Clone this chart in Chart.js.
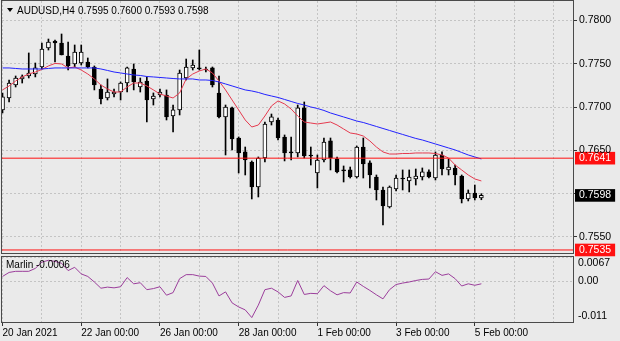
<!DOCTYPE html>
<html>
<head>
<meta charset="utf-8">
<script src="https://cdn.jsdelivr.net/npm/chart.js@4.4.1/dist/chart.umd.min.js"></script>
<style>
  html, body { margin: 0; padding: 0; background: #eaeaea; overflow: hidden; }
  canvas { position: absolute; left: 0; top: 0; }
</style>
</head>
<body>
<canvas id="precio" width="620" height="341"></canvas>
<canvas id="marlin" width="620" height="341"></canvas>
<script>
const W = 620, H = 341;
const symbol = "AUDUSD", period = "H4";

// H4 candles, 20 Jan 2021 00:00 -> 5 Feb 2021 04:00
const opens = [0.76967,0.77105,0.77255,0.77325,0.77359,0.77382,0.77463,0.77682,0.77763,0.77740,
  0.77590,0.77498,0.77509,0.77521,0.77463,0.77209,0.77105,0.77151,0.77174,0.77278,
  0.77440,0.77232,0.77301,0.77094,0.77140,0.77140,0.76897,0.76967,0.77336,0.77452,
  0.77452,0.77440,0.77452,0.77163,0.76886,0.76990,0.76643,0.76482,0.76366,0.76077,
  0.76412,0.76828,0.76851,0.76655,0.76482,0.76470,0.76990,0.76447,0.76239,0.76389,
  0.76609,0.76401,0.76274,0.76274,0.76193,0.76539,0.76355,0.76193,0.76043,0.75846,
  0.76054,0.76181,0.76147,0.76170,0.76193,0.76251,0.76181,0.76447,0.76274,0.76297,
  0.76204,0.75939,0.76008,0.7595];
const highs = [0.77163,0.77313,0.77359,0.77371,0.77625,0.77509,0.77740,0.77786,0.77775,0.77844,
  0.77752,0.77717,0.77717,0.77567,0.77475,0.77255,0.77325,0.77209,0.77290,0.77463,
  0.77498,0.77336,0.77348,0.77163,0.77209,0.77198,0.77024,0.77428,0.77555,0.77544,
  0.77659,0.77463,0.77463,0.77359,0.77024,0.77001,0.76655,0.76539,0.76378,0.76424,
  0.76828,0.76920,0.76874,0.76678,0.76655,0.77024,0.77059,0.76539,0.76447,0.76643,
  0.76643,0.76424,0.76320,0.76308,0.76551,0.76643,0.76378,0.76216,0.76077,0.76089,
  0.76216,0.76274,0.76274,0.76285,0.76297,0.76274,0.76482,0.76482,0.76401,0.76331,
  0.76216,0.76043,0.76100,0.7600];
const lows = [0.76932,0.77059,0.77232,0.77278,0.77336,0.77348,0.77440,0.77659,0.77521,0.77602,
  0.77428,0.77463,0.77486,0.77452,0.77198,0.77036,0.77082,0.77117,0.77082,0.77174,
  0.77198,0.77174,0.76828,0.77024,0.77117,0.76851,0.76712,0.76909,0.77313,0.77428,
  0.77428,0.77405,0.77232,0.76874,0.76447,0.76505,0.76239,0.76216,0.75939,0.75962,
  0.76366,0.76793,0.76620,0.76378,0.76389,0.76424,0.76412,0.76331,0.76066,0.76366,
  0.76274,0.76239,0.76135,0.76181,0.76181,0.76181,0.76066,0.75927,0.75639,0.75835,
  0.76031,0.76043,0.76020,0.76100,0.76158,0.76181,0.76158,0.76216,0.76216,0.76100,
  0.75893,0.75916,0.75927,0.7593];
const closes = [0.77117,0.77278,0.77336,0.77348,0.77394,0.77452,0.77671,0.77752,0.77740,0.77602,
  0.77475,0.77636,0.77636,0.77463,0.77255,0.77094,0.77174,0.77174,0.77278,0.77452,
  0.77290,0.77290,0.77082,0.77128,0.77174,0.76886,0.76967,0.77394,0.77463,0.77486,
  0.77440,0.77428,0.77255,0.76886,0.77001,0.76632,0.76470,0.76389,0.76077,0.76412,
  0.76805,0.76886,0.76643,0.76470,0.76470,0.76990,0.76435,0.76435,0.76389,0.76597,
  0.76412,0.76251,0.76262,0.76193,0.76539,0.76343,0.76216,0.76043,0.75858,0.76077,
  0.76181,0.76170,0.76193,0.76204,0.76251,0.76193,0.76447,0.76285,0.76308,0.76216,
  0.75939,0.76008,0.75950,0.7598];

// moving averages as shown on the chart
const maFast = [0.77198,0.77244,0.77301,0.77348,0.77382,0.77405,0.77434,0.77475,0.77504,0.77498,
  0.77452,0.77463,0.77428,0.77382,0.77325,0.77255,0.77209,0.77174,0.77174,0.77232,
  0.77278,0.77278,0.77244,0.77198,0.77151,0.77128,0.77105,0.77163,0.77325,0.77382,
  0.77417,0.77440,0.77394,0.77301,0.77198,0.77082,0.76967,0.76851,0.76770,0.76793,
  0.76897,0.77013,0.77071,0.77036,0.76978,0.76897,0.76828,0.76816,0.76805,0.76816,
  0.76828,0.76793,0.76747,0.76701,0.76689,0.76666,0.76609,0.76539,0.76482,0.76458,
  0.76458,0.76464,0.76464,0.76470,0.76470,0.76470,0.76464,0.76447,0.76412,0.76331,
  0.76274,0.76216,0.76170,0.76147];
const maSlow = [0.77452,0.77452,0.77446,0.77440,0.77440,0.77440,0.77440,0.77446,0.77452,0.77452,
  0.77452,0.77452,0.77452,0.77452,0.77452,0.77440,0.77423,0.77405,0.77394,0.77382,
  0.77371,0.77365,0.77353,0.77348,0.77342,0.77336,0.77330,0.77325,0.77325,0.77325,
  0.77313,0.77313,0.77307,0.77290,0.77267,0.77244,0.77221,0.77198,0.77186,0.77169,
  0.77146,0.77128,0.77111,0.77088,0.77065,0.77042,0.77024,0.77001,0.76984,0.76961,
  0.76932,0.76909,0.76886,0.76863,0.76839,0.76822,0.76799,0.76776,0.76753,0.76730,
  0.76707,0.76684,0.76661,0.76638,0.76620,0.76597,0.76574,0.76551,0.76528,0.76505,
  0.76476,0.76447,0.76424,0.76401];

// Marlin oscillator
const marlin = [0.0014,0.0025,0.0028,0.0028,0.0028,0.0036,0.0053,0.0058,0.0055,0.0050,
  0.0030,0.0039,0.0021,0.0014,-0.0001,-0.0018,-0.0015,-0.0017,-0.0014,0.0011,
  -0.0006,-0.0003,-0.0022,-0.0019,-0.0014,-0.0037,-0.0030,0.0008,0.0019,0.0019,
  0.0015,0.0014,-0.0004,-0.0039,-0.0028,-0.0058,-0.0069,-0.0077,-0.0098,-0.0064,
  -0.0022,-0.0018,-0.0028,-0.0043,-0.0039,0.0003,-0.0035,-0.0032,-0.0033,-0.0011,
  -0.0025,-0.0036,-0.0030,-0.0031,-0.0001,-0.0013,-0.0024,-0.0036,-0.0047,-0.0022,
  -0.0008,-0.0004,-0.0001,0.0003,0.0006,0.0007,0.0027,0.0017,0.0021,0.0008,
  -0.0012,-0.0006,-0.0010,-0.0006];

const levels = [0.7641, 0.7535];
const priceTicks = [0.7550, 0.7600, 0.7650, 0.7700, 0.7750, 0.7800];
const hiddenPriceTicks = [0.7600];
const marlinTicks = [-0.011, 0, 0.0067];
const marlinTickLabels = ["-0.011", "0.00", "0.0067"];
const dateIdx = [0, 12, 24, 36, 48, 60, 72];
const dateLabels = ["20 Jan 2021", "22 Jan 00:00", "26 Jan 00:00", "28 Jan 00:00", "1 Feb 00:00", "3 Feb 00:00", "5 Feb 00:00"];
const gridIdx = [0, 6, 12, 18, 24, 30, 36, 42, 48, 54, 60, 66, 72, 78, 84];

const xMin = -0.08, xMax = 86.97;
const yMin = 0.75315, yMax = 0.78225;
const paneRight = 573, mainBottom = 253, subTop = 257, subBottom = 322;

const gridColor = "#c4c4c4";
const frameColor = "#4a4a4a";
const levelRed = "#ff1010";
const font = "Liberation Sans";

Chart.defaults.font.family = font;
Chart.defaults.color = "#000";

const last = closes.length - 1;
const boxes = [
  { value: levels[0], color: levelRed },
  { value: levels[1], color: levelRed },
  { value: closes[last], color: "#000" }
];
function boxOf(c) {
  if (!c || !c.tick) return null;
  return boxes.find(b => b.value === c.tick.value) || null;
}

const up = closes.map((c, i) => c >= opens[i]);
const pts = arr => arr.map((v, i) => ({ x: i, y: v }));

const frame = {
  id: "frame",
  afterDraw(chart) {
    const { ctx, chartArea: a } = chart;
    ctx.save();
    ctx.strokeStyle = frameColor;
    ctx.lineWidth = 1;
    ctx.strokeRect(a.left - 0.5, a.top - 0.5, a.right - a.left + 1, a.bottom - a.top + 1);
    ctx.restore();
  }
};

const header = {
  id: "header",
  afterDraw(chart) {
    const ctx = chart.ctx;
    const f = v => v.toFixed(4);
    ctx.save();
    ctx.fillStyle = "#000";
    ctx.beginPath();
    ctx.moveTo(7, 8);
    ctx.lineTo(13, 8);
    ctx.lineTo(10, 12);
    ctx.closePath();
    ctx.fill();
    ctx.font = "10px " + font;
    ctx.textBaseline = "middle";
    ctx.fillText(symbol + "," + period, 17, 11);
    ctx.fillText([opens[last], highs[last], lows[last], closes[last]].map(f).join(" "), 78, 11);
    ctx.restore();
  }
};

const marlinTitle = {
  id: "marlinTitle",
  afterDraw(chart) {
    const ctx = chart.ctx;
    ctx.save();
    ctx.fillStyle = "#000";
    ctx.font = "10px " + font;
    ctx.textBaseline = "middle";
    ctx.fillText("Marlin " + marlin[last].toFixed(4), 6, 265);
    ctx.restore();
  }
};

const levelLine = v => ({
  type: "line",
  data: [{ x: xMin, y: v }, { x: xMax, y: v }],
  borderColor: levelRed, borderWidth: 1, pointRadius: 0, order: 0
});

new Chart(document.getElementById("precio"), {
  type: "bar",
  data: {
    datasets: [
      levelLine(levels[0]),
      levelLine(levels[1]),
      { type: "line", data: pts(maSlow), borderColor: "#2222ff", borderWidth: 1, pointRadius: 0, order: 1 },
      { type: "line", data: pts(maFast), borderColor: "#e53a4e", borderWidth: 1, pointRadius: 0, order: 1 },
      {
        type: "bar",
        data: opens.map((o, i) => ({ x: i, y: [o, closes[i]] })),
        backgroundColor: up.map(u => u ? "#ffffff" : "#000000"),
        borderColor: "#000", borderWidth: 1, borderSkipped: false,
        barThickness: 4, minBarLength: 1, grouped: false, order: 2
      },
      {
        type: "bar",
        data: lows.map((l, i) => ({ x: i, y: [l, highs[i]] })),
        backgroundColor: "#000", barThickness: 1, grouped: false, order: 3
      }
    ]
  },
  options: {
    responsive: false, animation: false, events: [],
    layout: { padding: { left: 2, top: 1, right: 0, bottom: H - mainBottom } },
    plugins: { legend: { display: false }, tooltip: { enabled: false } },
    scales: {
      x: {
        type: "linear", min: xMin, max: xMax, offset: false,
        afterBuildTicks: s => { s.ticks = gridIdx.map(v => ({ value: v })); },
        afterFit: s => { s.height = 0; s.paddingLeft = 0; s.paddingRight = 0; },
        ticks: { display: false },
        grid: { color: gridColor, drawTicks: false, offset: false },
        border: { display: false, dash: [2, 2] }
      },
      y: {
        position: "right", min: yMin, max: yMax,
        afterBuildTicks: s => {
          s.ticks = priceTicks.concat(boxes.map(b => b.value)).sort((a, b) => a - b).map(v => ({ value: v }));
        },
        afterFit: s => { s.width = W - paneRight; s.paddingTop = 0; s.paddingBottom = 0; },
        ticks: {
          padding: 2,
          font: { size: 10.5 },
          color: c => boxOf(c) ? "#fff" : "#000",
          showLabelBackdrop: c => !!boxOf(c),
          backdropColor: c => { const b = boxOf(c); return b ? b.color : "rgba(0,0,0,0)"; },
          backdropPadding: { left: 4, right: 4, top: 0, bottom: 0 },
          callback: v => hiddenPriceTicks.includes(v) ? "" : v.toFixed(4)
        },
        grid: {
          color: c => boxOf(c) ? "rgba(0,0,0,0)" : gridColor,
          tickColor: c => boxOf(c) ? "rgba(0,0,0,0)" : "#333",
          tickLength: 4
        },
        border: { display: false, dash: [2, 2] }
      }
    }
  },
  plugins: [frame, header]
});

new Chart(document.getElementById("marlin"), {
  type: "line",
  data: {
    datasets: [{ data: pts(marlin), borderColor: "#9b3e9b", borderWidth: 1, pointRadius: 0 }]
  },
  options: {
    responsive: false, animation: false, events: [],
    layout: { padding: { left: 2, top: subTop, right: 0, bottom: 0 } },
    plugins: { legend: { display: false }, tooltip: { enabled: false } },
    scales: {
      x: {
        type: "linear", min: xMin, max: xMax, offset: false,
        afterBuildTicks: s => { s.ticks = gridIdx.map(v => ({ value: v })); },
        afterFit: s => { s.height = H - subBottom; s.paddingLeft = 0; s.paddingRight = 0; },
        ticks: {
          autoSkip: false, maxRotation: 0, minRotation: 0, align: "start", padding: 1,
          font: { size: 10 },
          callback: v => { const k = dateIdx.indexOf(v); return k >= 0 ? dateLabels[k] : ""; }
        },
        grid: {
          color: gridColor, tickLength: 4,
          tickColor: c => (c.tick && dateIdx.includes(c.tick.value)) ? "#333" : "rgba(0,0,0,0)"
        },
        border: { display: false, dash: [2, 2] }
      },
      y: {
        position: "right", min: marlinTicks[0], max: marlinTicks[2],
        afterBuildTicks: s => { s.ticks = marlinTicks.map(v => ({ value: v })); },
        afterFit: s => { s.width = W - paneRight; s.paddingTop = 0; s.paddingBottom = 0; },
        ticks: {
          padding: 5,
          font: { size: 10.5 },
          callback: (v, i, t) => {
            const s = marlinTickLabels[i];
            if (i === t.length - 1) return ["", s];
            if (i === 0) return [s, ""];
            return s;
          }
        },
        grid: { color: gridColor, drawTicks: false },
        border: { display: false, dash: [2, 2] }
      }
    }
  },
  plugins: [frame, marlinTitle]
});
</script>
</body>
</html>
